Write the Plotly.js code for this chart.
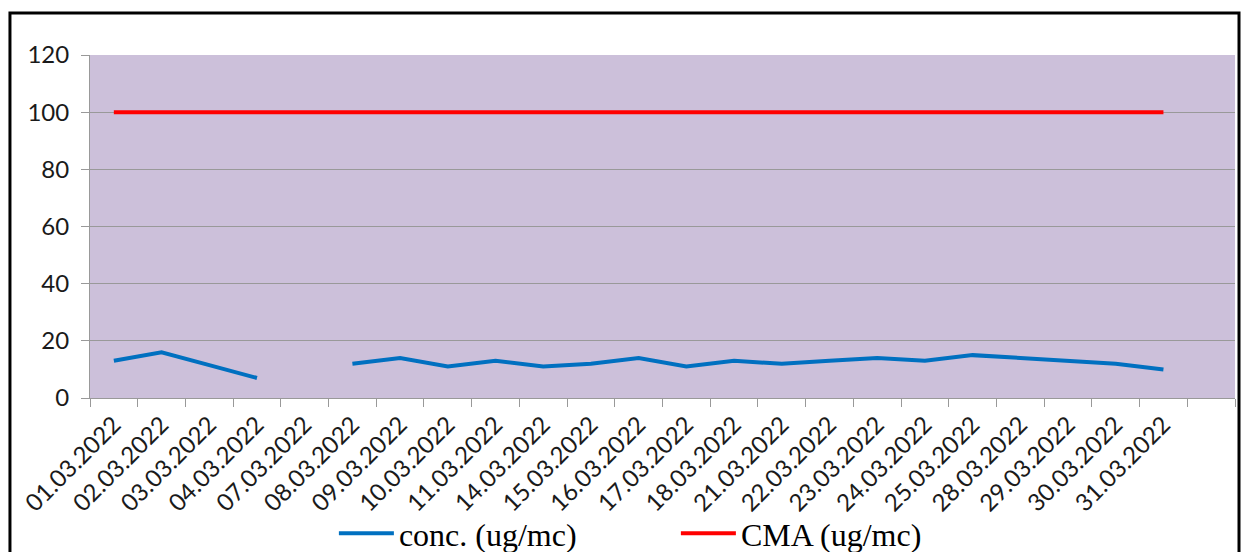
<!DOCTYPE html>
<html>
<head>
<meta charset="utf-8">
<script src="https://cdn.plot.ly/plotly-3.0.1.min.js"></script>
<style>html,body{margin:0;padding:0;background:#fff;}#chart{width:1242px;height:552px;}</style>
</head>
<body>
<div id="chart"></div>
<script>
const dates = ["01.03.2022","02.03.2022","03.03.2022","04.03.2022","07.03.2022","08.03.2022","09.03.2022","10.03.2022","11.03.2022","14.03.2022","15.03.2022","16.03.2022","17.03.2022","18.03.2022","21.03.2022","22.03.2022","23.03.2022","24.03.2022","25.03.2022","28.03.2022","29.03.2022","30.03.2022","31.03.2022"];
const extraCategory = [" "];
const conc = [13,16,11.5,7,null,12,14,11,13,11,12,14,11,13,12,13,14,13,15,14,13,12,10];
const cma = [100,100,100,100,100,100,100,100,100,100,100,100,100,100,100,100,100,100,100,100,100,100,100];
const yTicks = [0,20,40,60,80,100,120];

const traces = [
  {x: dates, y: conc, type: 'scatter', mode: 'lines', name: 'conc. (ug/mc)',
   line: {color: '#0070C0', width: 4}, connectgaps: false},
  {x: dates, y: cma, type: 'scatter', mode: 'lines', name: 'CMA (ug/mc)',
   line: {color: '#FF0000', width: 4}}
];

const tickFont = {family: 'Lato, "Open Sans", sans-serif', size: 24, color: '#1a1a1a'};

const layout = {
  width: 1242, height: 552,
  margin: {l: 90, r: 7, t: 55, b: 154, autoexpand: false},
  paper_bgcolor: '#ffffff',
  plot_bgcolor: '#CCC0DA',
  showlegend: true,
  legend: {orientation: 'h', x: 0.213, xanchor: 'left', y: -0.395, yanchor: 'middle',
    font: {family: '"Liberation Serif", "Times New Roman", serif', size: 32, color: '#000'},
    itemwidth: 55, entrywidth: 272, bgcolor: 'rgba(0,0,0,0)'},
  xaxis: {
    type: 'category', categoryorder: 'array', categoryarray: dates.concat(extraCategory),
    range: [-0.5, 23.5], tickson: 'boundaries', ticks: 'outside', ticklen: 8, tickcolor: '#999',
    showgrid: false, showline: true, linecolor: '#999', linewidth: 1, automargin: false,
    tickangle: -45, tickfont: tickFont, ticklabelstandoff: 2, zeroline: false
  },
  yaxis: {
    range: [0, 120], tickvals: yTicks, ticks: 'outside', ticklen: 8, tickcolor: '#999',
    showgrid: true, gridcolor: '#999', gridwidth: 1, showline: true, linecolor: '#999',
    zeroline: false, tickfont: tickFont, ticklabelstandoff: 7, automargin: false
  },
  shapes: [
    {type: 'rect', xref: 'paper', yref: 'paper', x0: -0.0699, x1: 1.0035, y0: -0.48, y1: 1.1224,
     line: {color: '#000', width: 3}, fillcolor: 'rgba(0,0,0,0)', layer: 'above'}
  ]
};

Plotly.newPlot('chart', traces, layout, {displayModeBar: false, staticPlot: true});
</script>
</body>
</html>
